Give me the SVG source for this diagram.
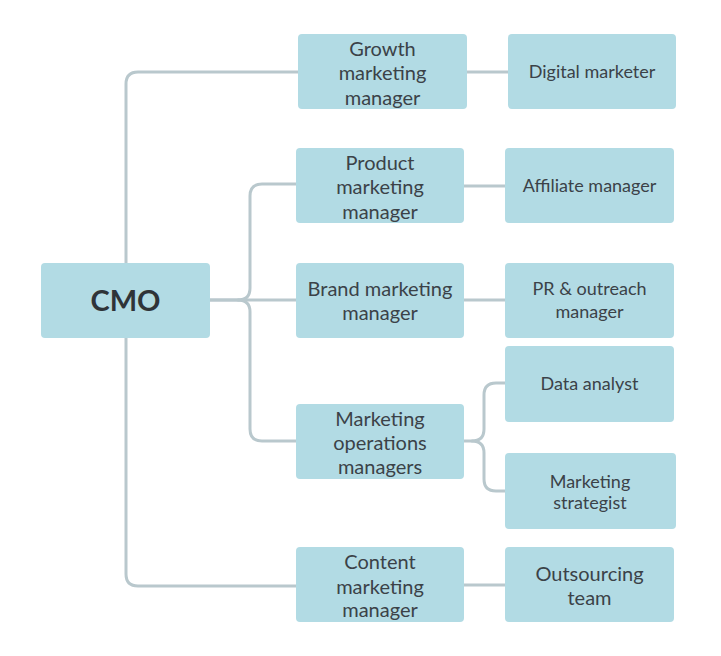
<svg xmlns="http://www.w3.org/2000/svg" width="721" height="656" viewBox="0 0 721 656">
<style>
.box{fill:#b2dbe4}
.t{font-family:Lato,"Liberation Sans",sans-serif;font-size:18px;fill:#3b4248;text-anchor:middle}
.l{font-size:20px}
.b{font-size:29px;font-weight:bold;fill:#2f3438}
.c{fill:none;stroke:#b9c8cd;stroke-width:3;stroke-linecap:round;stroke-linejoin:round}
</style>
<rect width="721" height="656" fill="#ffffff"/>
<g id="connectors">
<path class="c" d="M126,263 V84 Q126,72 138,72 H298"/>
<path class="c" d="M126,338 V574 Q126,586 138,586 H296"/>
<path class="c" d="M210,300 H296"/>
<path class="c" d="M210,300 H238 Q250,300 250,288 V196 Q250,184 262,184 H296"/>
<path class="c" d="M238,300 Q250,300 250,312 V429 Q250,441 262,441 H296"/>
<path class="c" d="M467,72 H508"/>
<path class="c" d="M464,186 H505"/>
<path class="c" d="M464,300 H505"/>
<path class="c" d="M464,585 H505"/>
<path class="c" d="M464,441 H472 Q484,441 484,429 V395 Q484,383 496,383 H505"/>
<path class="c" d="M472,441 Q484,441 484,453 V479 Q484,491 496,491 H505"/>
</g>
<g id="cmo"><rect class="box" x="41" y="263" width="169" height="75" rx="4"/><text class="t b" x="125.5" y="311">CMO</text></g>
<g id="growth"><rect class="box" x="298" y="34" width="169" height="75" rx="4"/><text class="t l" x="382.5" y="56">Growth</text><text class="t l" x="382.5" y="80">marketing</text><text class="t l" x="382.5" y="105">manager</text></g>
<g id="digital"><rect class="box" x="508" y="34" width="168" height="75" rx="4"/><text class="t" x="592" y="78">Digital marketer</text></g>
<g id="product"><rect class="box" x="296" y="148" width="168" height="75" rx="4"/><text class="t l" x="380" y="170">Product</text><text class="t l" x="380" y="194">marketing</text><text class="t l" x="380" y="219">manager</text></g>
<g id="affiliate"><rect class="box" x="505" y="148" width="169" height="75" rx="4"/><text class="t" x="589.5" y="192">Affiliate manager</text></g>
<g id="brand"><rect class="box" x="296" y="263" width="168" height="75" rx="4"/><text class="t l" x="380" y="296">Brand marketing</text><text class="t l" x="380" y="320">manager</text></g>
<g id="pr"><rect class="box" x="505" y="263" width="169" height="75" rx="4"/><text class="t" x="589.5" y="295">PR &amp; outreach</text><text class="t" x="589.5" y="318">manager</text></g>
<g id="data"><rect class="box" x="505" y="346" width="169" height="76" rx="4"/><text class="t" x="589.5" y="390">Data analyst</text></g>
<g id="ops"><rect class="box" x="296" y="404" width="168" height="75" rx="4"/><text class="t l" x="380" y="426">Marketing</text><text class="t l" x="380" y="450">operations</text><text class="t l" x="380" y="474">managers</text></g>
<g id="strategist"><rect class="box" x="505" y="453" width="171" height="76" rx="4"/><text class="t" x="590" y="488">Marketing</text><text class="t" x="590" y="509">strategist</text></g>
<g id="content"><rect class="box" x="296" y="547" width="168" height="75" rx="4"/><text class="t l" x="380" y="569">Content</text><text class="t l" x="380" y="594">marketing</text><text class="t l" x="380" y="617">manager</text></g>
<g id="outsourcing"><rect class="box" x="505" y="547" width="169" height="75" rx="4"/><text class="t l" x="589.5" y="581">Outsourcing</text><text class="t l" x="589.5" y="605">team</text></g>
</svg>
